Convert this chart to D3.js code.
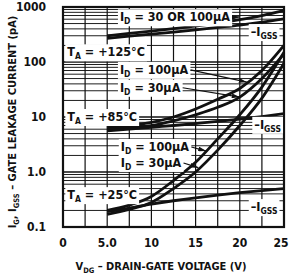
<!DOCTYPE html>
<html>
<head>
<meta charset="utf-8">
<script src="https://cdn.jsdelivr.net/npm/d3@7"></script>
<style>
body { margin: 0; background: #fff; }
text { font-family: "DejaVu Sans", sans-serif; font-stretch: condensed; font-weight: bold; fill: #111; }
</style>
</head>
<body>
<script>
var width = 289;
var height = 276;

// gate voltage points (V) at which the curves are read
var volts = [5, 7.5, 10, 12.5, 15, 17.5, 20, 22.5, 25];

// leakage current in pA
var id125 = [300, 330, 365, 405, 450, 510, 590, 700, 860];
var gss125 = [270, 295, 320, 350, 385, 425, 470, 530, 610];
var id100at85 = [6.5, 7, 8, 10, 14, 21, 33, 70, 200];
var id30at85 = [6, 6.5, 7, 8.5, 11, 15, 23, 50, 140];
var gss85 = [5.6, 6, 6.5, 7, 7.6, 8.3, 9.2, 10.2, 11.5];
var id100at25 = [0.2, 0.25, 0.36, 0.7, 1.5, 4, 11, 35, 150];
var id30at25 = [0.17, 0.21, 0.28, 0.5, 1.0, 2.5, 7, 22, 95];
var gss25 = [0.19, 0.22, 0.26, 0.3, 0.34, 0.38, 0.42, 0.46, 0.5];

var xTicks = [0, 5, 10, 15, 20, 25];
var xTickLabels = ["0", "5.0", "10", "15", "20", "25"];
var yTicks = [0.1, 1, 10, 100, 1000];
var yTickLabels = ["0.1", "1.0", "10", "100", "1000"];

var svg = d3.select("body")
    .append("svg")
    .attr("width", width)
    .attr("height", height);

var x = d3.scaleLinear().domain([0, 25]).range([63, 284]);
var y = d3.scaleLog().domain([0.1, 1000]).range([227, 7]);

// grid
var vgrid = d3.range(2.5, 25, 2.5);
svg.selectAll(".vg").data(vgrid).enter().append("line")
    .attr("x1", function(d) { return x(d); })
    .attr("x2", function(d) { return x(d); })
    .attr("y1", y(1000)).attr("y2", y(0.1))
    .attr("stroke", "#111").attr("stroke-width", 1.2);

var hgrid = [];
[0.1, 1, 10, 100].forEach(function(dec) {
  for (var k = 2; k <= 10; k++) hgrid.push(dec * k);
});
svg.selectAll(".hg").data(hgrid).enter().append("line")
    .attr("x1", x(0)).attr("x2", x(25))
    .attr("y1", function(d) { return y(d); })
    .attr("y2", function(d) { return y(d); })
    .attr("stroke", "#111")
    .attr("stroke-width", function(d, i) { return i % 9 == 8 ? 1.6 : 0.95; });

// frame
svg.append("rect")
    .attr("x", x(0)).attr("y", y(1000))
    .attr("width", x(25) - x(0)).attr("height", y(0.1) - y(1000))
    .attr("fill", "none").attr("stroke", "#111").attr("stroke-width", 2.2);

// tick labels
svg.selectAll(".xt").data(xTicks).enter().append("text")
    .attr("x", function(d) { return Math.min(x(d), 281); })
    .attr("y", 247)
    .attr("text-anchor", "middle")
    .attr("font-size", 12)
    .text(function(d, i) { return xTickLabels[i]; });

svg.selectAll(".yt").data(yTicks).enter().append("text")
    .attr("x", 46)
    .attr("y", function(d) { return y(d); })
    .attr("dy", "0.35em")
    .attr("text-anchor", "end")
    .attr("font-size", 12)
    .text(function(d, i) { return yTickLabels[i]; });

// axis titles
var xt = svg.append("text")
    .attr("x", 161).attr("y", 270)
    .attr("text-anchor", "middle")
    .attr("font-size", 11);
xt.append("tspan").text("V");
xt.append("tspan").attr("font-size", 7.5).attr("dy", 3).text("DG");
xt.append("tspan").attr("dy", -3).text(" \u2013 DRAIN-GATE VOLTAGE (V)");

var yt = svg.append("text")
    .attr("transform", "translate(16,122) rotate(-90)")
    .attr("text-anchor", "middle")
    .attr("font-size", 11);
yt.append("tspan").text("I");
yt.append("tspan").attr("font-size", 7.5).attr("dy", 3).text("G");
yt.append("tspan").attr("dy", -3).text(", I");
yt.append("tspan").attr("font-size", 7.5).attr("dy", 3).text("GSS");
yt.append("tspan").attr("dy", -3).text(" \u2013 GATE LEAKAGE CURRENT (pA)");

// curves
var series = [id125, gss125, id100at85, id30at85, gss85, id100at25, id30at25, gss25];
var line = d3.line()
    .x(function(d) { return x(d[0]); })
    .y(function(d) { return y(d[1]); })
    .curve(d3.curveMonotoneX);

svg.selectAll(".curve").data(series).enter().append("path")
    .attr("d", function(s) { return line(volts.map(function(v, i) { return [v, s[i]]; })); })
    .attr("fill", "none")
    .attr("stroke", "#111")
    .attr("stroke-width", 2.8);

// arrow head
svg.append("defs").append("marker")
    .attr("id", "ah").attr("viewBox", "0 0 10 6")
    .attr("refX", 10).attr("refY", 3)
    .attr("markerWidth", 7).attr("markerHeight", 4)
    .attr("orient", "auto")
    .append("path").attr("d", "M0,0L10,3L0,6Z").attr("fill", "#111");

// annotations: [left V, value, main, sub, rest, arrow target or null]
var notes = [
  [6.1, 650, "I", "D", " = 30 OR 100\u00b5A", [20, 660]],
  [20.9, 350, "\u2013I", "GSS", "", null],
  [0.15, 150, "T", "A", " = +125\u00b0C", null],
  [6.1, 72, "I", "D", " = 100\u00b5A", [20.8, 43]],
  [6.1, 34, "I", "D", " = 30\u00b5A", [20, 23]],
  [0.15, 10, "T", "A", " = +85\u00b0C", null],
  [21.3, 7.2, "\u2013I", "GSS", "", null],
  [6.2, 2.85, "I", "D", " = 100\u00b5A", [16.2, 2.4]],
  [6.2, 1.46, "I", "D", " = 30\u00b5A", [15.3, 1.2]],
  [0.15, 0.38, "T", "A", " = +25\u00b0C", null],
  [20.9, 0.23, "\u2013I", "GSS", "", null]
];

notes.forEach(function(n) {
  var g = svg.append("g");
  var t = g.append("text")
      .attr("x", x(n[0]) + 3)
      .attr("y", y(n[1]) + 4)
      .attr("font-size", 12.5);
  t.append("tspan").text(n[2]);
  t.append("tspan").attr("font-size", 8.5).attr("dy", 3).text(n[3]);
  if (n[4]) t.append("tspan").attr("dy", -3).text(n[4]);
  var b = t.node().getBBox();
  g.insert("rect", "text")
      .attr("x", b.x - 2).attr("y", b.y)
      .attr("width", b.width + 4).attr("height", b.height)
      .attr("fill", "#fff");
  if (n[5]) {
    g.append("line")
        .attr("x1", b.x + b.width + 2).attr("y1", y(n[1]))
        .attr("x2", x(n[5][0])).attr("y2", y(n[5][1]))
        .attr("stroke", "#111").attr("stroke-width", 1.2)
        .attr("marker-end", "url(#ah)");
  }
});
</script>
</body>
</html>
